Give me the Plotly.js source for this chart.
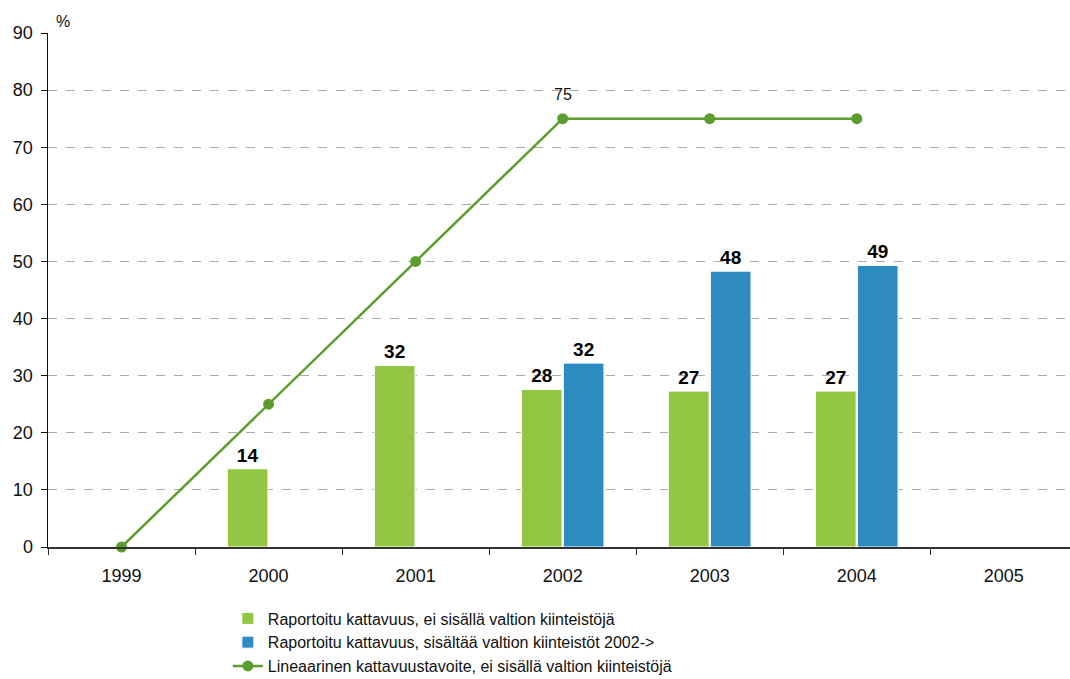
<!DOCTYPE html>
<html>
<head>
<meta charset="utf-8">
<script src="https://cdn.plot.ly/plotly-3.0.1.min.js"></script>
<style>html,body{margin:0;padding:0;background:#fff;}#chart{width:1070px;height:679px;}</style>
</head>
<body>
<div id="chart"></div>
<script>
const years = ['1999','2000','2001','2002','2003','2004','2005'];
const reportedExcl = [null, 13.7, 31.8, 27.6, 27.3, 27.3, null];
const reportedIncl = [null, null, null, 32.2, 48.3, 49.3, null];
const targetYears = ['1999','2000','2001','2002','2003','2004'];
const targetValues = [0, 25, 50, 75, 75, 75];
const targetLabels = ['', '', '', '75', '', ''];
const seriesNames = [
  'Raportoitu kattavuus, ei sisällä valtion kiinteistöjä',
  'Raportoitu kattavuus, sisältää valtion kiinteistöt 2002->',
  'Lineaarinen kattavuustavoite, ei sisällä valtion kiinteistöjä'
];

const fontFam = '"Liberation Sans", Arial, sans-serif';
const lbl = v => v == null ? '' : String(Math.round(v));

const traces = [
  {
    type: 'bar', x: years, y: reportedExcl, name: seriesNames[0],
    marker: {color: '#93c743', line: {color: '#ffffff', width: 1}},
    text: reportedExcl.map(lbl), textposition: 'outside', cliponaxis: false,
    textfont: {family: fontFam, size: 19, color: '#000', weight: 'bold'}
  },
  {
    type: 'bar', x: years, y: reportedIncl, name: seriesNames[1],
    marker: {color: '#2e8bbf', line: {color: '#ffffff', width: 1}},
    text: reportedIncl.map(lbl), textposition: 'outside', cliponaxis: false,
    textfont: {family: fontFam, size: 19, color: '#000', weight: 'bold'}
  },
  {
    type: 'scatter', mode: 'lines+markers', x: targetYears, y: targetValues, name: seriesNames[2],
    line: {color: '#5b9e2e', width: 2.5},
    marker: {color: '#5b9e2e', size: 11},
    cliponaxis: false
  }
];

const annotations = [{
  text: '%', xref: 'paper', yref: 'paper', x: 0.006, y: 1,
  xanchor: 'left', yanchor: 'bottom', yshift: 1, showarrow: false,
  font: {family: fontFam, size: 16, color: '#111'}
}];
targetLabels.forEach((t, i) => {
  if (t) annotations.push({
    text: t, x: years.indexOf(targetYears[i]), y: targetValues[i], xref: 'x', yref: 'y',
    showarrow: false, xanchor: 'center', yanchor: 'bottom', yshift: 14,
    font: {family: fontFam, size: 16, color: '#111'}
  });
});

const layout = {
  width: 1070, height: 679,
  margin: {l: 48, r: 0, t: 33, b: 132, autoexpand: false},
  paper_bgcolor: '#fff', plot_bgcolor: '#fff',
  font: {family: fontFam, size: 16, color: '#111'},
  barmode: 'group', bargap: 0.43, bargroupgap: 0.03,
  showlegend: true,
  legend: {
    x: 0.176, xanchor: 'left', y: -0.106, yanchor: 'top',
    orientation: 'v', traceorder: 'normal',
    font: {family: fontFam, size: 16, color: '#111'},
    tracegroupgap: 0, itemwidth: 30
  },
  xaxis: {
    type: 'category', categoryorder: 'array', categoryarray: years,
    range: [-0.5, 6.45],
    showline: true, linecolor: '#333', linewidth: 1.5,
    ticks: 'outside', ticklen: 6, tickcolor: '#333', tickson: 'boundaries',
    ticklabelstandoff: 12,
    showgrid: false, zeroline: false,
    tickfont: {family: fontFam, size: 18, color: '#111'}
  },
  yaxis: {
    range: [0, 90], dtick: 10, tick0: 0,
    showline: true, linecolor: '#111', linewidth: 1.5,
    ticks: 'outside', ticklen: 6, tickcolor: '#111',
    ticklabelstandoff: 4,
    showgrid: true, gridcolor: '#aaaaaa', griddash: 'dash', gridwidth: 1,
    zeroline: false,
    tickfont: {family: fontFam, size: 18, color: '#111'}
  },
  annotations: annotations
};

Plotly.newPlot('chart', traces, layout, {displayModeBar: false, staticPlot: true});
</script>
</body>
</html>
